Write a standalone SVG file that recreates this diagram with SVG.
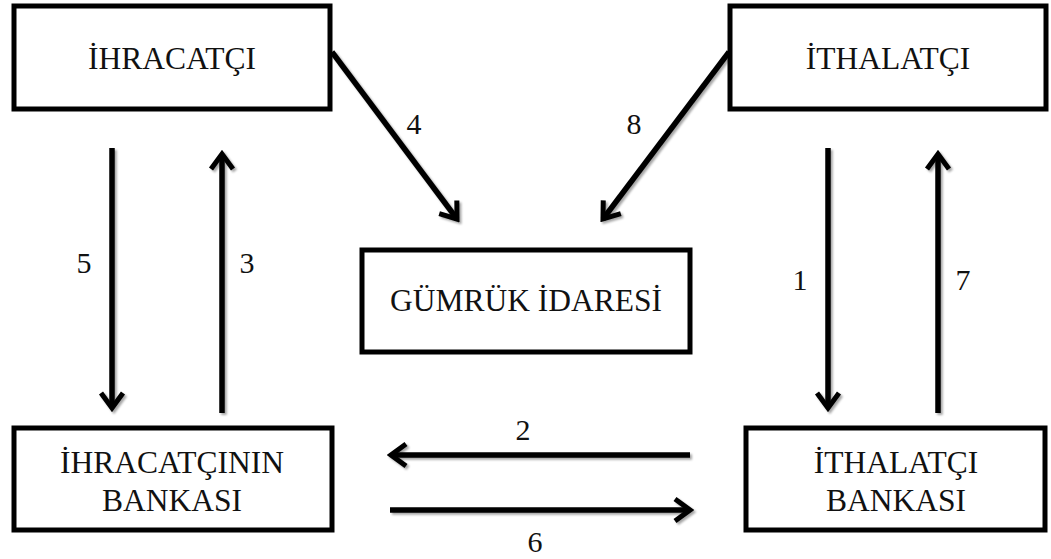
<svg xmlns="http://www.w3.org/2000/svg" width="1051" height="559" viewBox="0 0 1051 559">
<defs>
<filter id="sh" x="-20%" y="-20%" width="140%" height="140%">
<feDropShadow dx="2" dy="2" stdDeviation="1.2" flood-color="#000" flood-opacity="0.35"/>
</filter>
<marker id="ah" markerUnits="userSpaceOnUse" viewBox="-22 -14 26 28" refX="0" refY="0" markerWidth="26" markerHeight="28" orient="auto">
<path d="M-15,-11 L0,0 L-15,11" fill="none" stroke="#000" stroke-width="5" stroke-linejoin="miter"/>
</marker>
<style>
.box{fill:#fff;stroke:#000;stroke-width:5}
.t{font-size:31.5px;fill:#111;text-anchor:middle}
.n{font-size:30px;fill:#111;text-anchor:middle}
.c{fill:none;stroke:#000;stroke-width:5.5;marker-end:url(#ah)}
</style>
</defs>
<rect width="1051" height="559" fill="#fff"/>
<g id="connectors" filter="url(#sh)">
<line class="c" x1="112" y1="148" x2="112" y2="408"/>
<line class="c" x1="222" y1="413" x2="222" y2="154"/>
<line class="c" x1="828" y1="148" x2="828" y2="408"/>
<line class="c" x1="938" y1="413" x2="938" y2="154"/>
<line class="c" x1="690" y1="455" x2="391" y2="455"/>
<line class="c" x1="390" y1="510" x2="690" y2="510"/>
<line class="c" x1="332" y1="52" x2="457" y2="219"/>
<line class="c" x1="729" y1="52" x2="603" y2="219"/>
</g>
<g id="labels" font-family="Liberation Serif, Tinos, Times New Roman, DejaVu Serif, serif">
<text class="n" x="84" y="273">5</text>
<text class="n" x="247" y="273">3</text>
<text class="n" x="800" y="290">1</text>
<text class="n" x="963" y="290">7</text>
<text class="n" x="523" y="440">2</text>
<text class="n" x="535" y="552">6</text>
<text class="n" x="414" y="134">4</text>
<text class="n" x="634" y="134">8</text>
</g>
<g id="ihracatci" font-family="Liberation Serif, Tinos, Times New Roman, DejaVu Serif, serif">
<rect class="box" x="14" y="6" width="316" height="103"/>
<text class="t" x="172" y="69">İHRACATÇI</text>
</g>
<g id="ithalatci" font-family="Liberation Serif, Tinos, Times New Roman, DejaVu Serif, serif">
<rect class="box" x="730" y="6" width="316" height="103"/>
<text class="t" x="888" y="69">İTHALATÇI</text>
</g>
<g id="gumruk" font-family="Liberation Serif, Tinos, Times New Roman, DejaVu Serif, serif">
<rect class="box" x="362" y="250" width="328" height="102"/>
<text class="t" x="526" y="311">GÜMRÜK İDARESİ</text>
</g>
<g id="ihracatci-banka" font-family="Liberation Serif, Tinos, Times New Roman, DejaVu Serif, serif">
<rect class="box" x="14" y="428" width="318" height="102"/>
<text class="t" x="172" y="473">İHRACATÇININ</text>
<text class="t" x="172" y="511">BANKASI</text>
</g>
<g id="ithalatci-banka" font-family="Liberation Serif, Tinos, Times New Roman, DejaVu Serif, serif">
<rect class="box" x="746" y="428" width="299" height="102"/>
<text class="t" x="896" y="473">İTHALATÇI</text>
<text class="t" x="896" y="511">BANKASI</text>
</g>
</svg>
